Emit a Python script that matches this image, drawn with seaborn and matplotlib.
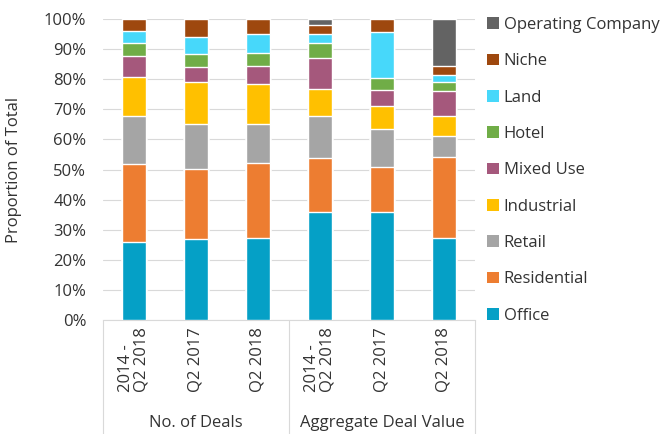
import matplotlib
matplotlib.use("Agg")
import matplotlib.pyplot as plt
import numpy as np
import pandas as pd
import seaborn as sns
from matplotlib.patches import Patch
from matplotlib.ticker import PercentFormatter
import matplotlib.transforms as mtransforms

# bars: three for No. of Deals, three for Aggregate Deal Value
bar_labels = ["2014 -\nQ2 2018", "Q2 2017", "Q2 2018", "2014 -\nQ2 2018", "Q2 2017", "Q2 2018"]
group_labels = ["No. of Deals", "Aggregate Deal Value"]

sectors = ["Office", "Residential", "Retail", "Industrial", "Mixed Use", "Hotel", "Land", "Niche",
           "Operating Company"]
office = [25.8, 26.8, 27.1, 36.0, 36.0, 27.4]
residential = [26.1, 23.3, 25.2, 17.9, 14.7, 26.9]
retail = [16.0, 14.9, 12.9, 14.0, 12.6, 6.8]
industrial = [12.9, 14.0, 13.2, 9.0, 7.9, 6.8]
mixed_use = [7.0, 5.2, 5.9, 10.1, 5.3, 8.3]
hotel = [4.2, 4.3, 4.5, 5.0, 4.0, 3.0]
land = [4.0, 5.4, 6.1, 3.0, 15.2, 2.2]
niche = [4.0, 6.1, 5.1, 3.0, 4.3, 2.9]
operating_company = [0.0, 0.0, 0.0, 2.0, 0.0, 15.7]

colors = ["#05A0C6", "#ED7D31", "#A5A5A5", "#FFC000", "#A5587C", "#70AD47", "#47D8FA", "#9E480E",
          "#636363"]

series = [office, residential, retail, industrial, mixed_use, hotel, land, niche, operating_company]
cum = np.cumsum(np.array(series), axis=0)

sns.set_theme(style="white")
plt.rcParams["font.family"] = ["Open Sans", "DejaVu Sans"]
text_color = "#333333"
fs = 12

fig = plt.figure(figsize=(6.62, 4.34), dpi=100)
ax = fig.add_axes([103 / 662, 1 - 320 / 434, (475 - 103) / 662, (320 - 19) / 434])

keys = list(range(len(bar_labels)))
# draw cumulative totals from the top down so each segment covers the one below
for i in range(len(sectors) - 1, -1, -1):
    df = pd.DataFrame({"bar": keys, "value": cum[i]})
    sns.barplot(data=df, x="bar", y="value", color=colors[i], width=0.4, saturation=1,
                ax=ax, order=keys, zorder=3)

ax.set_ylim(0, 100)
ax.set_xlim(-0.5, 5.5)
ax.set_yticks(np.arange(0, 101, 10))
ax.yaxis.set_major_formatter(PercentFormatter(decimals=0))
ax.grid(axis="y", color="#D9D9D9", linewidth=0.8, zorder=0)
ax.set_axisbelow(True)
for s in ["left", "right", "top"]:
    ax.spines[s].set_visible(False)
ax.spines["bottom"].set_color("#D9D9D9")
ax.spines["bottom"].set_linewidth(0.8)

ax.set_xticks(keys)
ax.set_xticklabels(bar_labels, rotation=90, va="top", ha="center", multialignment="left",
                   fontsize=fs, color=text_color, linespacing=1.0)
ax.tick_params(axis="x", length=0, pad=5)
ax.tick_params(axis="y", length=0, pad=12, labelsize=fs, labelcolor=text_color)
ax.set_xlabel("")
ax.set_ylabel("Proportion of Total", fontsize=fs, color=text_color, labelpad=16)

# category group boxes under the axis
trans = mtransforms.blended_transform_factory(ax.transData, ax.transAxes)
for xpos in [-0.5, 2.5, 5.5]:
    ax.plot([xpos, xpos], [0, -0.4], transform=trans, color="#D9D9D9", linewidth=0.8, clip_on=False)
for g, label in enumerate(group_labels):
    ax.text(1 + 3 * g, -0.343, label, transform=trans, ha="center", va="center", fontsize=fs,
            color=text_color)

handles = [Patch(facecolor=colors[i], edgecolor="none", label=sectors[i])
           for i in range(len(sectors) - 1, -1, -1)]
fig.legend(handles=handles, loc="upper left", bbox_to_anchor=(487 / 662, 1 - 17 / 434), frameon=False,
           fontsize=fs, labelcolor=text_color, handlelength=0.7, handleheight=0.7, handletextpad=0.3,
           labelspacing=1.22, borderpad=0, borderaxespad=0)

fig.savefig("out.png", dpi=100)
